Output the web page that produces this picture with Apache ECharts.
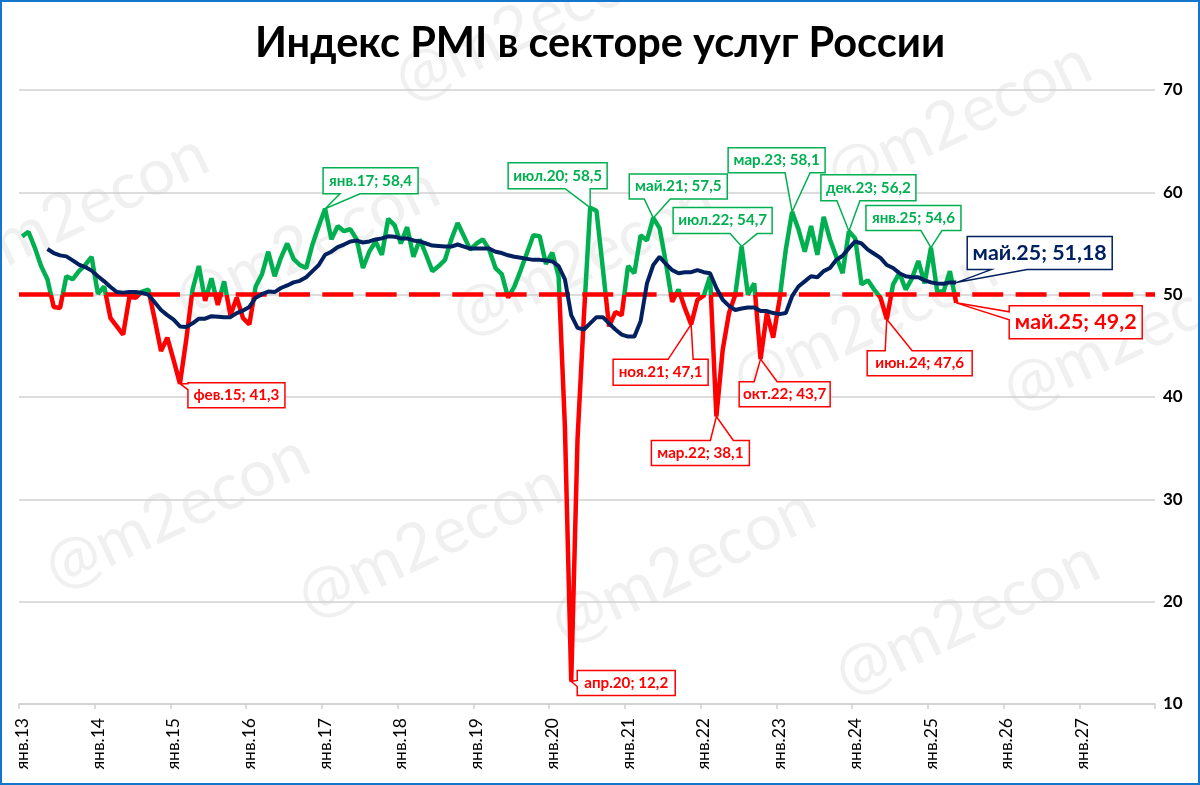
<!DOCTYPE html>
<html><head><meta charset="utf-8">
<style>html,body{margin:0;padding:0;background:#fff}#c{width:1200px;height:785px}</style>
<script src="https://cdn.jsdelivr.net/npm/echarts@6/dist/echarts.min.js"></script>
</head><body><div id="c"></div>
<script>
const monthNames = ['янв','фев','мар','апр','май','июн','июл','авг','сен','окт','ноя','дек'];
const years = ['13','14','15','16','17','18','19','20','21','22','23','24','25','26','27'];
const categories = years.flatMap(y => monthNames.map(m => m + '.' + y));

const pmi2013 = [55.7,56.15,54.6,52.8,51.5,48.8,48.7,51.8,51.5,52.3,52.9,53.7];
const pmi2014 = [50.1,50.8,47.7,46.9,46.1,49.8,49.7,50.3,50.5,47.6,44.5,45.8];
const pmi2015 = [43.6,41.3,45.6,50.5,52.8,49.4,51.6,49.0,51.3,48.0,49.7,47.7];
const pmi2016 = [47.1,50.8,52.0,54.2,51.8,53.6,55.0,53.5,52.9,52.6,54.9,56.7];
const pmi2017 = [58.4,55.4,56.7,56.2,56.4,55.4,52.6,54.2,55.2,53.9,57.4,56.8];
const pmi2018 = [55.0,56.6,53.7,55.4,53.9,52.3,52.8,53.4,55.4,57.0,55.7,54.4];
const pmi2019 = [55.0,55.4,54.4,52.6,52.0,49.7,50.8,52.4,54.1,55.8,55.7,53.0];
const pmi2020 = [54.1,51.8,37.1,12.2,35.9,47.8,58.5,58.2,52.6,46.9,48.3,48.0];
const pmi2021 = [52.8,52.1,55.8,55.3,57.5,56.5,53.1,49.3,50.5,48.7,47.1,49.5];
const pmi2022 = [49.9,51.8,38.1,44.6,48.2,50.0,54.7,50.0,51.1,43.7,48.2,45.8];
const pmi2023 = [49.5,54.4,58.1,56.4,54.2,56.7,53.9,57.6,55.4,53.7,52.1,56.2];
const pmi2024 = [55.5,51.0,51.4,50.5,49.7,47.6,51.0,52.1,50.5,51.6,53.3,51.1];
const pmi2025 = [54.6,50.3,50.3,52.3,49.2];
const pmiValues = [].concat(pmi2013,pmi2014,pmi2015,pmi2016,pmi2017,pmi2018,pmi2019,pmi2020,pmi2021,pmi2022,pmi2023,pmi2024,pmi2025);

const avg2013 = [null,null,null,null,54.46,54.07,53.84,53.74,53.35,52.93,52.7,52.35];
const avg2014 = [51.8,51.3,50.75,50.26,50.2,50.26,50.26,50.16,50.0,49.25,48.5,48.0];
const avg2015 = [47.55,46.9,46.85,47.2,47.65,47.65,47.9,47.85,47.8,47.8,48.2,48.45];
const avg2016 = [48.8,49.7,50.05,50.3,50.25,50.65,50.9,51.2,51.35,51.7,52.3,52.9];
const avg2017 = [53.9,54.2,54.65,54.9,55.2,55.28,55.1,55.2,55.4,55.5,55.7,55.67];
const avg2018 = [55.5,55.5,55.3,55.2,55.0,54.8,54.75,54.7,54.7,54.9,54.7,54.5];
const avg2019 = [54.5,54.5,54.5,54.2,54.07,53.85,53.7,53.6,53.5,53.4,53.4,53.35];
const avg2020 = [53.25,52.8,51.5,48.0,46.75,46.6,47.2,47.8,47.8,47.2,46.6,46.1];
const avg2021 = [45.9,45.9,47.4,51.1,52.9,53.7,53.0,52.4,52.1,52.2,52.2,52.4];
const avg2022 = [52.2,52.1,50.65,49.5,48.9,48.5,48.65,48.75,48.75,48.4,48.4,48.2];
const avg2023 = [48.1,48.2,49.85,50.8,51.3,51.8,51.7,52.3,52.6,53.4,53.8,54.55];
const avg2024 = [55.2,55.0,54.4,54.0,53.6,52.9,52.6,52.1,51.8,51.7,51.7,51.4];
const avg2025 = [51.2,51.1,51.07,51.2,51.18];
const avgValues = [].concat(avg2013,avg2014,avg2015,avg2016,avg2017,avg2018,avg2019,avg2020,avg2021,avg2022,avg2023,avg2024,avg2025);

const thresholdValue = 50;
const yTicks = {min:10,max:70,interval:10};

const calloutMonths = [25,48,90,100,114,122,131,144,148,148,137,106,110,117,87];
const calloutSource = ['pmi','pmi','pmi','pmi','pmi','pmi','pmi','pmi','avg','pmi','pmi','pmi','pmi','pmi','pmi'];
const calloutLayout = [
 [8,-1,97,25,'l',1,7,15.2],
 [-2,-41,95,26,'b',17,37,15.2],
 [-82,-45,99,26,'b',57,82,15.2],
 [-24,-44,98,25,'b',15,41,15.2],
 [-68.5,-39,99,26,'b',57,84,15.2],
 [-64,-64,97,25,'b',57,82,15.2],
 [-28,-56.5,95,26,'b',16,39,15.2],
 [-65,-42,95,25,'b',55,76,15.2],
 [11,-46,145,33,'b',24,60,21.4],
 [53,3,133,33,'l',6,14,21.4],
 [-19.6,31.4,105,25,'t',18,45,15.2],
 [-78,35,95,26,'t',55,80,15.2],
 [-65,24,98,25,'t',59,82,15.2],
 [-21.4,22.5,91,25,'t',15,38,15.2],
 [6,-11,98,25,'l',10,16,15.2]
];

const GREEN='#00b050', RED='#ff0000', NAVY='#002060', FONT='Lato, "Open Sans", sans-serif';
const sourceValues = {pmi:pmiValues, avg:avgValues};
const calloutData = calloutMonths.map((m,i)=>[m, sourceValues[calloutSource[i]][m]]);
const fmt = v => String(v).replace('.',',');

const watermarks = [[76,211],[307,244],[527,24],[959,119],[177,512],[430,541],[967,618],[584,259],[865,324],[1135,334],[683,566]];

function renderCallout(params, api){
  const i = params.dataIndex;
  const [dx,dy,w,h,edge,a,b,fs] = calloutLayout[i];
  const p = api.coord([api.value(0), api.value(1)]);
  const v = api.value(1);
  const x = p[0]+dx, y = p[1]+dy;
  const color = calloutSource[i]==='avg' ? NAVY : (v>=50 ? GREEN : RED);
  const pts = [[x,y]];
  if(edge==='t'){pts.push([x+a,y],p,[x+b,y]);}
  pts.push([x+w,y]);
  pts.push([x+w,y+h]);
  if(edge==='b'){pts.push([x+b,y+h],p,[x+a,y+h]);}
  pts.push([x,y+h]);
  if(edge==='l'){pts.push([x,y+b],p,[x,y+a]);}
  return {type:'group',children:[
    {type:'polygon',shape:{points:pts},style:{fill:'#fff',stroke:color,lineWidth:1.5}},
    {type:'text',style:{x:x+w/2,y:y+h/2,text:categories[calloutMonths[i]]+'; '+fmt(calloutData[i][1]),
      fill:color,font:'bold '+fs+'px '+FONT,align:'center',verticalAlign:'middle'}}
  ]};
}

const chart = echarts.init(document.getElementById('c'),null,{renderer:'canvas'});
chart.setOption({
  animation:false,
  backgroundColor:'#fff',
  title:{text:'Индекс PMI в секторе услуг России',left:'center',top:18,
    textStyle:{fontFamily:FONT,fontWeight:'bold',fontSize:41.5,color:'#000'}},
  graphic:[
    ...watermarks.map(w=>({type:'text',x:w[0],y:w[1],rotation:0.44,z:0,silent:true,
      style:{text:'@m2econ',fill:'#f0f0f0',font:'65px '+FONT,align:'center',verticalAlign:'middle'}})),
    {type:'rect',shape:{x:1,y:1,width:1198,height:783},z:100,silent:true,style:{fill:'none',stroke:'#1276cc',lineWidth:2}}
  ],
  grid:{left:19,right:45,top:90,bottom:81},
  visualMap:{type:'piecewise',show:false,seriesIndex:0,dimension:1,
    pieces:[{min:0,max:thresholdValue,color:RED},{min:thresholdValue,max:100,color:GREEN}]},
  xAxis:{type:'category',data:categories,boundaryGap:true,
    axisLine:{lineStyle:{color:'#d0d0d0',width:1.5}},
    axisTick:{show:true,interval:11,length:5,lineStyle:{color:'#d0d0d0',width:1.5}},
    axisLabel:{interval:11,rotate:90,margin:14,color:'#000',fontFamily:FONT,fontSize:17.5},
    splitLine:{show:false}},
  yAxis:{type:'value',position:'right',min:yTicks.min,max:yTicks.max,interval:yTicks.interval,
    axisLine:{show:false},axisTick:{show:false},
    axisLabel:{margin:8,color:'#000',fontFamily:FONT,fontWeight:'bold',fontSize:17},
    splitLine:{lineStyle:{color:'#d0d0d0',width:1.5}}},
  series:[
    {name:'PMI',type:'line',data:pmiValues,symbol:'none',smooth:false,z:3,lineStyle:{width:4.5}},
    {name:'Порог',type:'line',data:[],symbol:'none',z:4,
      markLine:{silent:true,symbol:'none',label:{show:false},
        data:[{yAxis:thresholdValue}],
        lineStyle:{color:RED,width:4.5,type:[31,12.33],cap:'butt'}}},
    {name:'Среднее',type:'line',data:avgValues,symbol:'none',z:5,connectNulls:false,
      lineStyle:{width:4,color:NAVY},itemStyle:{color:NAVY}},
    {name:'Подписи',type:'custom',coordinateSystem:'cartesian2d',data:calloutData,
      encode:{x:0,y:1},z:6,renderItem:renderCallout,silent:true,clip:false}
  ]
});
</script></body></html>
